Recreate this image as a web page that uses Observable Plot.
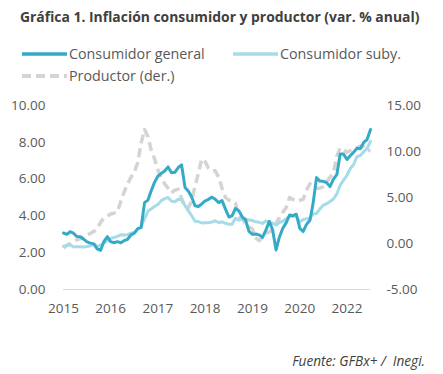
<!DOCTYPE html>
<html>
<head>
<meta charset="utf-8">
<script src="https://cdn.jsdelivr.net/npm/d3@7"></script>
<script src="https://cdn.jsdelivr.net/npm/@observablehq/plot@0.6"></script>
<style>
  body { margin: 0; background: #fff; font-family: "Open Sans", sans-serif; }
  #wrap { position: relative; width: 443px; height: 374px; }
  #title { position: absolute; left: 20px; top: 7px; font-size: 13.9px; font-weight: 700; color: #404040; white-space: nowrap; }
  .leg { position: absolute; display: flex; align-items: center; font-size: 14.3px; color: #595959; white-space: nowrap; }
  .leg svg { margin-right: 2px; }
  #chart { position: absolute; left: 0; top: 85px; }
  #source { position: absolute; right: 18px; top: 351px; font-size: 13.6px; font-style: italic; color: #404040; white-space: nowrap; }
</style>
</head>
<body>
<div id="wrap">
  <div id="title">Gráfica 1. Inflación consumidor y productor (var. % anual)</div>
  <div class="leg" style="left:22px; top:44px;"><svg width="45" height="6"><line x1="0" x2="45" y1="3" y2="3" stroke="#35aac6" stroke-width="3.5"/></svg>Consumidor general</div>
  <div class="leg" style="left:233px; top:44px;"><svg width="45" height="6"><line x1="0" x2="45" y1="3" y2="3" stroke="#a6dbe8" stroke-width="3.5"/></svg>Consumidor suby.</div>
  <div class="leg" style="left:22px; top:66px;"><svg width="45" height="6"><line x1="0" x2="45" y1="3" y2="3" stroke="#d4d4d4" stroke-width="4" stroke-dasharray="9,5"/></svg>Productor (der.)</div>
  <div id="chart"></div>
  <div id="source">Fuente: GFBx+ /&nbsp; Inegi.</div>
</div>
<script>
// Monthly series, Jan 2015 – Aug 2022
const startYear = 2015;
const general = [
  3.07,3.00,3.14,3.06,2.88,2.87,2.74,2.59,2.52,2.48,2.21,2.13,
  2.61,2.87,2.60,2.54,2.60,2.54,2.65,2.73,2.97,3.06,3.31,3.36,
  4.72,4.86,5.35,5.82,6.16,6.31,6.44,6.66,6.35,6.37,6.63,6.77,
  5.55,5.34,5.04,4.55,4.51,4.65,4.81,4.90,5.02,4.90,4.72,4.83,
  4.37,3.94,4.00,4.41,4.28,3.95,3.78,3.16,3.00,3.02,2.97,2.83,
  3.24,3.70,3.25,2.15,2.84,3.33,3.62,4.05,4.01,4.09,3.33,3.15,
  3.54,3.76,4.67,6.08,5.89,5.88,5.81,5.59,6.00,6.24,7.37,7.36,
  7.07,7.28,7.45,7.68,7.65,7.99,8.15,8.70
];
const core = [
  2.35,2.39,2.43,2.31,2.33,2.32,2.31,2.34,2.38,2.47,2.34,2.41,
  2.54,2.64,2.76,2.83,2.89,2.97,2.96,2.98,3.07,3.10,3.29,3.44,
  3.84,4.26,4.37,4.52,4.62,4.83,4.94,5.00,4.80,4.77,4.90,4.87,
  4.56,4.27,4.02,3.71,3.69,3.62,3.63,3.63,3.67,3.73,3.63,3.68,
  3.60,3.54,3.55,3.87,3.77,3.85,3.82,3.78,3.75,3.68,3.65,3.59,
  3.73,3.66,3.60,3.50,3.64,3.71,3.85,3.97,3.99,3.98,3.66,3.80,
  3.84,3.87,4.12,4.13,4.37,4.58,4.66,4.78,4.92,5.19,5.67,5.94,
  6.21,6.59,6.78,7.22,7.28,7.49,7.65,8.05
];
const producer = [
  -0.5,-0.2,0.0,0.2,0.4,0.5,0.7,0.9,1.1,1.3,1.6,2.3,
  2.8,3.0,3.2,3.3,3.4,4.6,5.6,6.5,7.2,7.8,8.8,10.9,
  12.4,11.6,10.2,9.2,8.0,7.2,6.5,6.0,5.5,5.8,5.9,4.9,
  4.0,3.9,4.6,6.2,7.6,9.2,8.9,8.2,7.9,7.9,7.2,6.0,
  5.0,4.7,4.6,4.4,3.0,2.6,2.2,1.8,1.6,0.6,0.3,0.7,
  1.1,1.3,1.4,2.2,2.8,3.4,3.9,5.0,4.8,4.6,4.7,4.8,
  5.8,6.5,6.2,6.0,6.0,6.2,6.7,7.2,7.7,9.5,10.4,10.2,
  9.9,10.1,10.3,10.4,10.6,10.5,10.1,10.1
];
const xTickIndex = [0, 14, 28, 42, 56, 70, 84];
const xTickLabels = ["2015", "2016", "2017", "2018", "2019", "2020", "2022"];
const leftTicks = [0, 2, 4, 6, 8, 10];
const rightTicks = [-5, 0, 5, 10, 15];

const months = general.map((_, i) => new Date(startYear, i, 1));
const rows = months.map((d, i) => ({date: d, general: general[i], core: core[i], producer: producer[i]}));
// right axis (-5..15) mapped onto the left axis (0..10)
const toLeft = v => (v + 5) / 2;
const toRight = v => v * 2 - 5;
const tickDates = xTickIndex.map(i => months[i]);

const chart = Plot.plot({
  width: 443,
  height: 240,
  marginTop: 20,
  marginBottom: 36,
  marginLeft: 63,
  marginRight: 73,
  style: {fontFamily: "Open Sans, sans-serif", fontSize: "13.5px", color: "#595959", background: "#fff"},
  x: {type: "time", domain: [months[0], months[months.length - 1]]},
  y: {domain: [0, 10]},
  marks: [
    Plot.ruleY([0], {stroke: "#d9d9d9", strokeWidth: 1}),
    Plot.axisY({anchor: "left", ticks: leftTicks, tickFormat: d => d.toFixed(2), tickSize: 0, tickPadding: 18, label: null, fill: "#595959"}),
    Plot.axisY({anchor: "right", ticks: rightTicks.map(toLeft), tickFormat: d => toRight(d).toFixed(2), tickSize: 0, tickPadding: 16, label: null, textAnchor: "start", fill: "#595959"}),
    Plot.axisX({ticks: tickDates, tickFormat: d => xTickLabels[tickDates.findIndex(t => +t === +d)], tickSize: 0, tickPadding: 14, label: null, fill: "#595959"}),
    Plot.line(rows, {x: "date", y: d => toLeft(d.producer), stroke: "#d4d4d4", strokeWidth: 3.5, strokeDasharray: "9,5", strokeLinecap: "butt"}),
    Plot.line(rows, {x: "date", y: "core", stroke: "#a6dbe8", strokeWidth: 3}),
    Plot.line(rows, {x: "date", y: "general", stroke: "#35aac6", strokeWidth: 3})
  ]
});
document.getElementById("chart").appendChild(chart);
</script>
</body>
</html>
